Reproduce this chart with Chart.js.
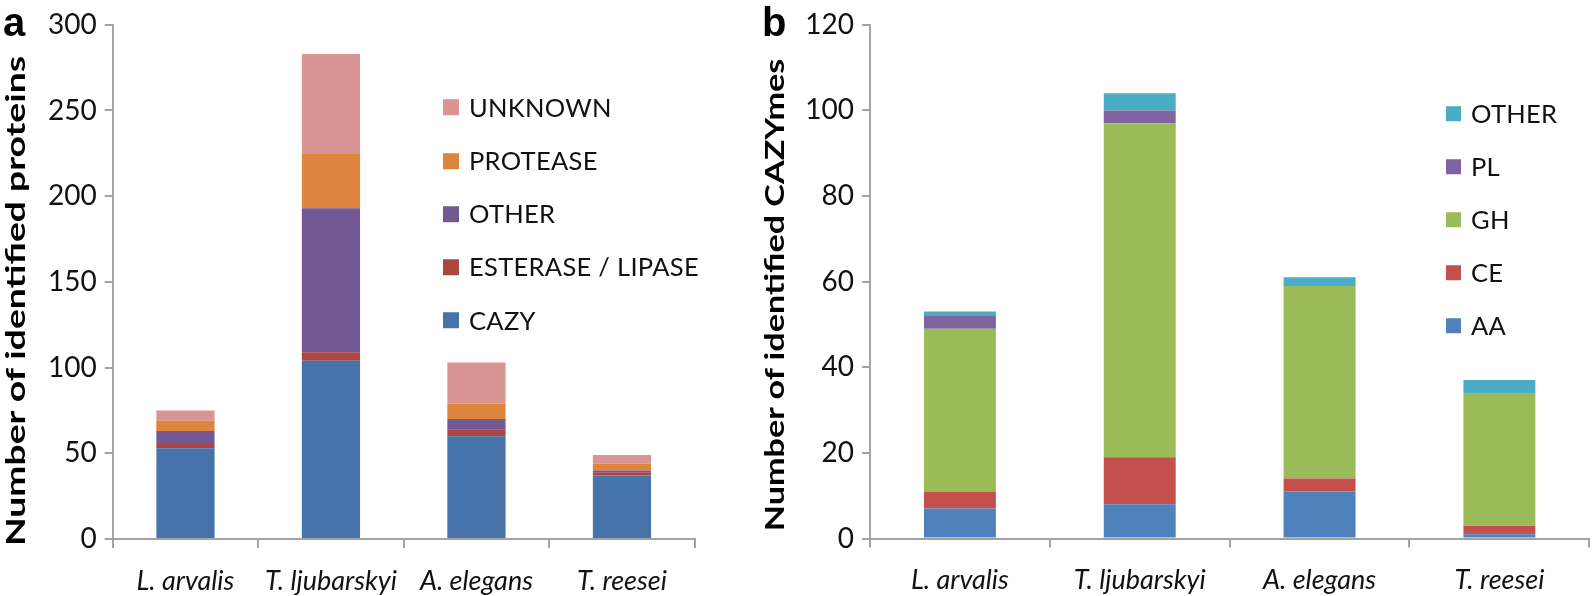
<!DOCTYPE html>
<html>
<head>
<meta charset="utf-8">
<script src="https://cdn.jsdelivr.net/npm/chart.js@4.4.0/dist/chart.umd.min.js"></script>
<style>
  body { margin: 0; background: #fff; width: 1595px; height: 596px; overflow: hidden; position: relative; }
  canvas { position: absolute; top: 0; }
  #chartA { left: 0; }
  #chartB { left: 760px; }
  .panel { position: absolute; top: 2px; font: bold 40px "Liberation Sans", Arial, sans-serif; line-height: 40px; color: #000; }
  .ytitle { position: absolute; font: bold 26px Lato, sans-serif; white-space: nowrap; color: #000; line-height: 1; }
  .legend-item { position: absolute; display: flex; align-items: center; transform: translateY(-50%);
                 font: 25.5px Lato, sans-serif; color: #111; line-height: 1; white-space: nowrap; letter-spacing: 0.3px; }
  .sw { display: inline-block; margin-right: 10px; }
</style>
</head>
<body>
<canvas id="chartA" width="760" height="596"></canvas>
<canvas id="chartB" width="835" height="596"></canvas>
<div class="panel" style="left:3px">a</div>
<div class="panel" style="left:762px">b</div>

<script>
// Data ==============================

const species = ['L. arvalis', 'T. ljubarskyi', 'A. elegans', 'T. reesei'];

// panel a - identified proteins
const proteinClasses = ['CAZY', 'ESTERASE / LIPASE', 'OTHER', 'PROTEASE', 'UNKNOWN'];
const cazy = [53, 104, 60, 37];
const esteraseLipase = [3, 5, 4, 2];
const otherProteins = [7, 84, 6, 1];
const protease = [6, 32, 9, 4];
const unknown = [6, 58, 24, 5];
const proteinColors = ['#4673a9', '#ad4543', '#735993', '#dd853c', '#d89594'];

// panel b - identified CAZYmes
const cazyClasses = ['AA', 'CE', 'GH', 'PL', 'OTHER'];
const aa = [7, 8, 11, 1];
const ce = [4, 11, 3, 2];
const gh = [38, 78, 45, 31];
const pl = [3, 3, 0, 0];
const otherCazy = [1, 4, 2, 3];
const cazyColors = ['#4f81bd', '#c4504d', '#9bbb59', '#8064a2', '#4bacc6'];

const axisA = { max: 300, step: 50, title: 'Number of identified proteins' };
const axisB = { max: 120, step: 20, title: 'Number of identified CAZYmes' };

// Chart setup =======================

const axisGray = '#a3a3a3';

function makeChart(id, names, series, colors, axis, box) {
  const datasets = names.map((name, i) => ({
    label: name,
    data: series[i],
    backgroundColor: colors[i],
    borderWidth: 0,
    categoryPercentage: 1,
    barPercentage: 0.4
  }));

  return new Chart(document.getElementById(id), {
    type: 'bar',
    data: { labels: species, datasets: datasets },
    options: {
      responsive: false,
      animation: false,
      layout: { padding: { top: box.top, right: box.right, left: 0, bottom: 0 } },
      plugins: {
        legend: { display: false },
        tooltip: { enabled: false }
      },
      scales: {
        x: {
          stacked: true,
          grid: { drawOnChartArea: false, offset: true, tickLength: 9, color: axisGray, lineWidth: 2 },
          border: { color: axisGray, width: 2 },
          ticks: { color: '#111', padding: 17, font: { family: 'Lato', size: 27, style: 'italic' } },
          afterFit: function(scale) { scale.height = box.xHeight; }
        },
        y: {
          stacked: true,
          min: 0,
          max: axis.max,
          grid: { drawOnChartArea: false, tickLength: 8, color: axisGray, lineWidth: 2 },
          border: { color: axisGray, width: 2 },
          ticks: { stepSize: axis.step, color: '#111', padding: 8, font: { family: 'Lato', size: 28 } },
          afterFit: function(scale) { scale.width = box.yWidth; }
        }
      }
    }
  });
}

const chartA = makeChart('chartA', proteinClasses,
  [cazy, esteraseLipase, otherProteins, protease, unknown], proteinColors, axisA,
  { top: 13, right: 65.3, yWidth: 112.7, xHeight: 57 });

const chartB = makeChart('chartB', cazyClasses,
  [aa, ce, gh, pl, otherCazy], cazyColors, axisB,
  { top: 14, right: 5.7, yWidth: 110, xHeight: 57.5 });

// Legends (top entry = last series) ==

function buildLegend(chart, left, top, gap, size) {
  const sets = chart.data.datasets;
  for (let i = sets.length - 1, row = 0; i >= 0; i--, row++) {
    const item = document.createElement('div');
    item.className = 'legend-item';
    item.style.left = left + 'px';
    item.style.top = (top + row * gap) + 'px';
    const sw = document.createElement('span');
    sw.className = 'sw';
    sw.style.width = size + 'px';
    sw.style.height = size + 'px';
    sw.style.background = sets[i].backgroundColor;
    const txt = document.createElement('span');
    txt.textContent = sets[i].label;
    item.appendChild(sw);
    item.appendChild(txt);
    document.body.appendChild(item);
  }
}

buildLegend(chartA, 443, 107.5, 53.3, 16);
buildLegend(chartB, 1446, 113.5, 53, 15);

// Rotated axis titles, stretched along their length like the original
function axisTitle(text, cx, cy, length) {
  const el = document.createElement('div');
  el.className = 'ytitle';
  el.textContent = text;
  document.body.appendChild(el);
  const stretch = length / el.offsetWidth;
  el.style.left = cx + 'px';
  el.style.top = cy + 'px';
  el.style.transform = 'translate(-50%, -50%) rotate(-90deg) scaleX(' + stretch + ')';
}

axisTitle(axisA.title, 15, 301, 490);
axisTitle(axisB.title, 774, 295, 473);
</script>
</body>
</html>
